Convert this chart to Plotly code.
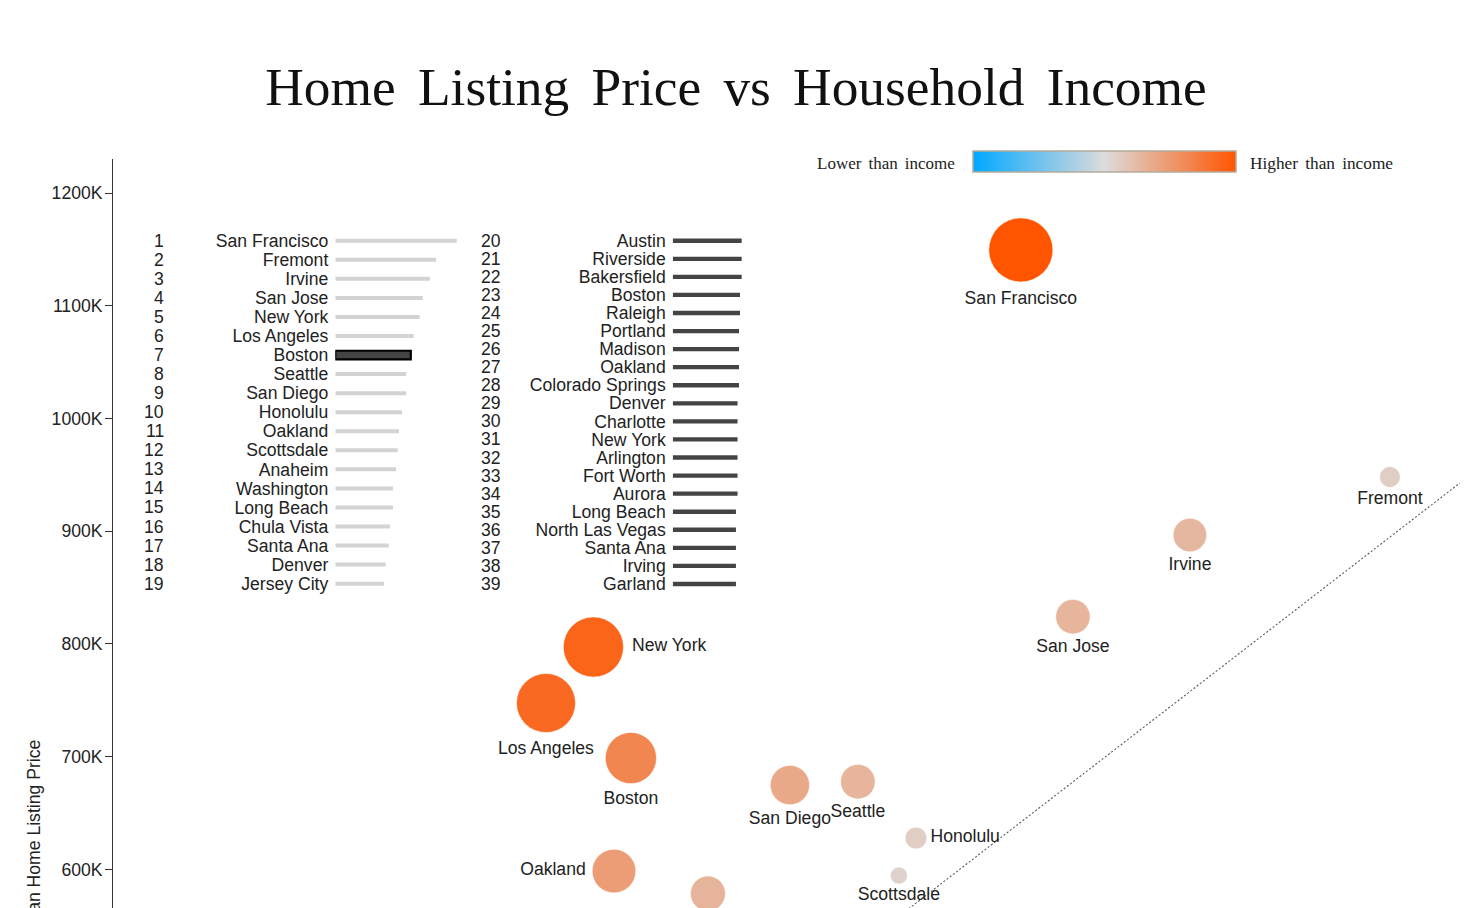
import math
import plotly.graph_objects as go

# ---------------- data ----------------
scatter_cities = ["San Francisco", "Fremont", "Irvine", "San Jose", "New York",
                  "Los Angeles", "Boston", "San Diego", "Seattle", "Honolulu",
                  "Scottsdale", "Oakland", "Anaheim"]
listing_price_k = [1149.7, 948.2, 896.7, 824.2, 797.3, 747.6, 698.8, 674.8,
                   677.8, 627.8, 594.5, 598.5, 578.5]
income_equiv_k = [641.9, 894.9, 757.8, 677.6, 348.9, 316.4, 374.6, 483.6,
                  530.2, 570.0, 558.3, 363.0, 427.4]

parity_line_k = [450.0, 942.9]

rank1_cities = ["San Francisco", "Fremont", "Irvine", "San Jose", "New York",
                "Los Angeles", "Boston", "Seattle", "San Diego", "Honolulu",
                "Oakland", "Scottsdale", "Anaheim", "Washington", "Long Beach",
                "Chula Vista", "Santa Ana", "Denver", "Jersey City"]
rank1_values_k = [1150, 954, 897, 828, 799, 742, 715, 672, 672, 632, 603, 591,
                  575, 546, 546, 518, 506, 477, 461]

rank2_cities = ["Austin", "Riverside", "Bakersfield", "Boston", "Raleigh",
                "Portland", "Madison", "Oakland", "Colorado Springs", "Denver",
                "Charlotte", "New York", "Arlington", "Fort Worth", "Aurora",
                "Long Beach", "North Las Vegas", "Santa Ana", "Irving", "Garland"]
rank2_values_k = [653, 653, 653, 637, 637, 628, 628, 628, 628, 614, 614, 614,
                  614, 614, 614, 599, 599, 599, 599, 599]

highlight_city = "Boston"

y_tick_values = [600, 700, 800, 900, 1000, 1100, 1200]
y_tick_labels = ["600K", "700K", "800K", "900K", "1000K", "1100K", "1200K"]

# ---------------- layout helpers (pixel geometry) ----------------
W, H = 1472, 908
ML, MR, MT, MB = 113, 10, 159, 0
PW, PH = W - ML - MR, H - MT - MB


def px(xp):
    return (xp - ML) / PW


def py(yp):
    return (H - yp) / PH


SANS = "Liberation Sans, Arial, Helvetica, sans-serif"
SERIF = "Liberation Serif, Times New Roman, serif"
TXT = "#222222"
FS = 17.6

label_positions = ["bottom center", "bottom center", "bottom center",
                   "bottom center", "middle right", "bottom center",
                   "bottom center", "bottom center", "bottom center",
                   "middle right", "bottom center", "middle left",
                   "bottom center"]

gap = [p - i for p, i in zip(listing_price_k, income_equiv_k)]
gmax = max(abs(g) for g in gap)
diam = [64 * math.sqrt(max(g, 0) / gmax) for g in gap]

colorscale = [[0.0, "#00A8FF"], [0.5, "#DCDCDC"], [1.0, "#FF5500"]]

fig = go.Figure()

# parity (dashed) line
fig.add_trace(go.Scatter(
    x=parity_line_k, y=parity_line_k, mode="lines",
    line=dict(color="#5a5a5a", width=1.1, dash="2px,2px"),
    hoverinfo="skip", showlegend=False))

# bubbles
fig.add_trace(go.Scatter(
    x=income_equiv_k, y=listing_price_k, mode="markers+text",
    text=scatter_cities, textposition=label_positions,
    textfont=dict(family=SANS, size=FS, color=TXT),
    marker=dict(size=diam, color=gap, colorscale=colorscale,
                cmin=-gmax, cmax=gmax, opacity=1,
                line=dict(width=0.8, color="rgba(255,255,255,0.6)"),
                showscale=True,
                colorbar=dict(orientation="h", lenmode="pixels", len=263,
                              thicknessmode="pixels", thickness=21,
                              x=px(973), xanchor="left",
                              y=py(151), yanchor="top",
                              xpad=0, ypad=0,
                              outlinewidth=1.5, outlinecolor="#b3ab9c",
                              showticklabels=False, ticks="")),
    hoverinfo="skip", showlegend=False))

# ranking list 1 (grey bars)
fig.add_trace(go.Bar(
    x=rank1_values_k, y=list(range(1, len(rank1_cities) + 1)),
    orientation="h", xaxis="x2", yaxis="y2",
    width=[0.45 if c == highlight_city else 0.21 for c in rank1_cities],
    marker=dict(color=["#444444" if c == highlight_city else "#D3D3D3" for c in rank1_cities],
                line=dict(color="#000000",
                          width=[2.2 if c == highlight_city else 0 for c in rank1_cities])),
    hoverinfo="skip", showlegend=False))

# ranking list 2 (dark bars)
fig.add_trace(go.Bar(
    x=rank2_values_k, y=list(range(20, 20 + len(rank2_cities))),
    orientation="h", xaxis="x3", yaxis="y3",
    width=0.24,
    marker=dict(color="#444444", line=dict(width=0)),
    hoverinfo="skip", showlegend=False))

annotations = []
for i, _ in enumerate(rank1_cities):
    annotations.append(dict(x=px(164.5), xref="paper", y=i + 1, yref="y2",
                            text=str(i + 1), showarrow=False, xanchor="right",
                            yanchor="middle", borderpad=0,
                            font=dict(family=SANS, size=FS, color=TXT)))
for i, _ in enumerate(rank2_cities):
    annotations.append(dict(x=px(502), xref="paper", y=i + 20, yref="y3",
                            text=str(i + 20), showarrow=False, xanchor="right",
                            yanchor="middle", borderpad=0,
                            font=dict(family=SANS, size=FS, color=TXT)))

# colour legend labels
annotations.append(dict(x=px(956), xref="paper", y=py(163.5), yref="paper",
                        text="Lower\u2006 than\u2006 income", showarrow=False,
                        xanchor="right", yanchor="middle", borderpad=0,
                        font=dict(family=SERIF, size=17, color=TXT)))
annotations.append(dict(x=px(1249), xref="paper", y=py(163.5), yref="paper",
                        text="Higher\u2006 than\u2006 income", showarrow=False,
                        xanchor="left", yanchor="middle", borderpad=0,
                        font=dict(family=SERIF, size=17.3, color=TXT)))
# y axis title
annotations.append(dict(x=px(34), xref="paper", y=py(845), yref="paper",
                        text="Median Home Listing Price", textangle=-90,
                        showarrow=False, xanchor="center", yanchor="middle",
                        font=dict(family=SANS, size=FS, color=TXT)))

X_SCALE = 0.1056  # px per K for rank bars

fig.update_layout(
    width=W, height=H,
    margin=dict(l=ML, r=MR, t=MT, b=MB, pad=0),
    paper_bgcolor="white", plot_bgcolor="white",
    showlegend=False,
    title=dict(text="Home\u2006 Listing\u2006 Price\u2006 vs\u2006 Household\u2006 Income",
               x=0.5, xanchor="center", xref="container",
               y=1 - 86.5 / H, yanchor="middle", yref="container",
               font=dict(family=SERIF, size=53.4, color="#111111")),
    xaxis=dict(range=[19.6, 944.3], visible=False, fixedrange=True),
    yaxis=dict(range=[565.7, 1230.4], showline=True, linecolor="#333333",
               linewidth=1, ticks="outside", ticklen=7, tickcolor="#333333",
               tickvals=y_tick_values, ticktext=y_tick_labels,
               ticklabelstandoff=-1,
               tickfont=dict(family=SANS, size=FS, color=TXT),
               showgrid=False, zeroline=False, fixedrange=True),
    xaxis2=dict(domain=[px(335.3), px(335.3 + 1200 * X_SCALE)], range=[0, 1200],
                anchor="y2", visible=False, fixedrange=True),
    yaxis2=dict(domain=[py(593.2), py(231.2)], range=[19.5, 0.5], anchor="x2",
                tickvals=list(range(1, len(rank1_cities) + 1)), ticktext=rank1_cities,
                ticks="", showline=False, showgrid=False, zeroline=False,
                ticklabelstandoff=6,
                tickfont=dict(family=SANS, size=FS, color=TXT), fixedrange=True),
    xaxis3=dict(domain=[px(672.7), px(672.7 + 1200 * X_SCALE)], range=[0, 1200],
                anchor="y3", visible=False, fixedrange=True),
    yaxis3=dict(domain=[py(593.0), py(231.7)], range=[39.5, 19.5], anchor="x3",
                tickvals=list(range(20, 20 + len(rank2_cities))), ticktext=rank2_cities,
                ticks="", showline=False, showgrid=False, zeroline=False,
                ticklabelstandoff=6,
                tickfont=dict(family=SANS, size=FS, color=TXT), fixedrange=True),
    annotations=annotations,
)

fig.write_html("out.html", config={"displayModeBar": False},
               post_script="document.body.style.margin='0';document.body.style.overflow='hidden';")
